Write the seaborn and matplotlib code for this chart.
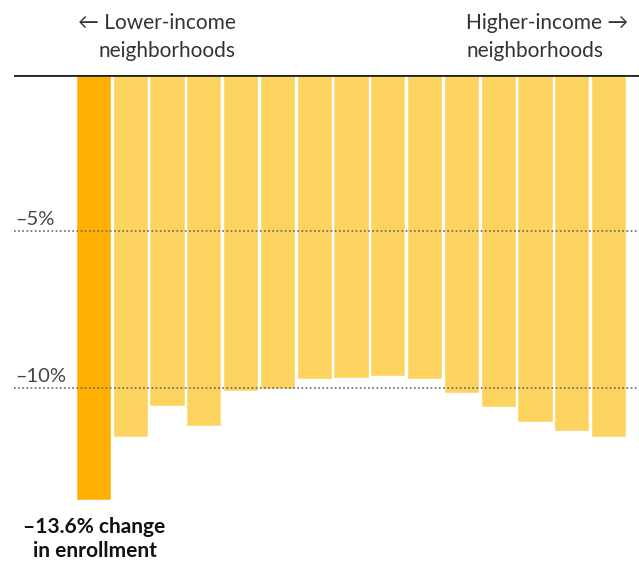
import pandas as pd
import matplotlib.pyplot as plt
import seaborn as sns
from matplotlib.transforms import blended_transform_factory

# Enrollment change by neighborhood income group, lower -> higher
groups = [str(i) for i in range(1, 16)]
change = [-13.6, -11.57, -10.57, -11.22, -10.1, -10.05, -9.72, -9.70,
          -9.63, -9.73, -10.17, -10.63, -11.10, -11.40, -11.58]
grid_values = [-5, -10]
grid_labels = ['–5%', '–10%']

df = pd.DataFrame({'group': groups, 'change': change})

sns.set_style('white')
plt.rcParams['font.family'] = ['Lato', 'DejaVu Sans']

W, H = 639, 561
fig = plt.figure(figsize=(W / 100, H / 100), dpi=100)

# axes placed in pixels: zero line at y=75, 1% = 31.27 px, bar pitch 36.8 px
ppu_y = 31.27
pitch = 36.8
top_px, bot_px = 75, 515
left_px, right_px = 14, 639
ax = fig.add_axes([left_px / W, (H - bot_px) / H, (right_px - left_px) / W, (bot_px - top_px) / H])

palette = ['#ffb000'] + ['#fdd35f'] * 14
sns.barplot(data=df, x='group', y='change', hue='group', palette=palette,
            legend=False, width=0.96, saturation=1, ax=ax, zorder=1)

first_center = 75 + pitch / 2
ax.set_xlim((left_px - first_center) / pitch, (right_px - first_center) / pitch)
ax.set_ylim(-(bot_px - top_px) / ppu_y, 0)

for v in grid_values:
    ax.axhline(v, color='#666666', linestyle=(0, (1, 1.5)), linewidth=1.2, zorder=3)
ax.axhline(0, color='#222222', linewidth=2, zorder=4)

trans = blended_transform_factory(ax.transAxes, ax.transData)
for v, lab in zip(grid_values, grid_labels):
    ax.text(0.002, v + 0.1, lab, transform=trans, fontsize=14.5, color='#444444',
            ha='left', va='bottom')

ax.set_xticks([])
ax.set_yticks([])
ax.set_xlabel('')
ax.set_ylabel('')
sns.despine(ax=ax, left=True, bottom=True)
ax.patch.set_alpha(0)

# top labels
fs = 15
fig.text(78 / W, 1 - 23 / H, '← Lower-income', fontsize=fs, color='#333333', ha='left', va='center')
fig.text(98 / W, 1 - 51 / H, 'neighborhoods', fontsize=fs, color='#333333', ha='left', va='center')
fig.text(628 / W, 1 - 23 / H, 'Higher-income →', fontsize=fs, color='#333333', ha='right', va='center')
fig.text(467 / W, 1 - 51 / H, 'neighborhoods', fontsize=fs, color='#333333', ha='left', va='center')

# annotation under the first bar
tx = blended_transform_factory(ax.transData, fig.transFigure)
ax.text(0.03, 1 - 527 / H, '–13.6% change', transform=tx, fontsize=15, fontweight='bold',
        color='#111111', ha='center', va='center')
ax.text(0.03, 1 - 551 / H, 'in enrollment', transform=tx, fontsize=15, fontweight='bold',
        color='#111111', ha='center', va='center')

fig.savefig('out.png', dpi=100)
